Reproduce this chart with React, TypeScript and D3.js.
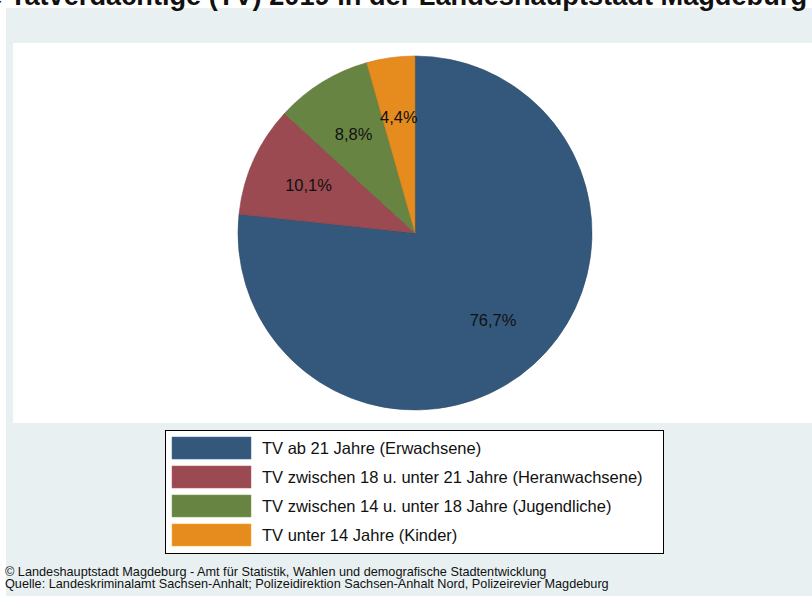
import React from "react";
import * as d3 from "d3";

const categories = [
  "TV ab 21 Jahre (Erwachsene)",
  "TV zwischen 18 u. unter 21 Jahre (Heranwachsene)",
  "TV zwischen 14 u. unter 18 Jahre (Jugendliche)",
  "TV unter 14 Jahre (Kinder)",
];
const shares = [76.7, 10.1, 8.8, 4.4];
const labels = ["76,7%", "10,1%", "8,8%", "4,4%"];
const colors = ["#33587b", "#9a4a50", "#688443", "#e68c1e"];

const titleText = "Ermittelte Tatverdächtige (TV) 2019 in der Landeshauptstadt Magdeburg";
const footer = [
  "©  Landeshauptstadt Magdeburg - Amt für Statistik, Wahlen und demografische Stadtentwicklung",
  "Quelle: Landeskriminalamt Sachsen-Anhalt; Polizeidirektion Sachsen-Anhalt Nord, Polizeirevier Magdeburg",
];

export default function App() {
  const W = 812, H = 596;
  const cx = 415, cy = 233, r = 177;
  const pie = d3.pie<number>().sort(null).value((d) => d);
  const arcs = pie(shares);
  const arc = d3.arc<d3.PieArcDatum<number>>().innerRadius(0).outerRadius(r);
  const labelArc = d3.arc<d3.PieArcDatum<number>>().innerRadius(r * 0.66).outerRadius(r * 0.66);
  const font = "'Liberation Sans', Arial, Helvetica, sans-serif";

  const legendY = d3.scaleBand<number>().domain(d3.range(categories.length)).range([437, 546]).paddingInner(0.24).paddingOuter(0);
  const lb = legendY.bandwidth();

  return (
    <svg width={W} height={H} style={{ position: "absolute", left: 0, top: 0 }} fontFamily={font}>
      <rect x={0} y={0} width={W} height={H} fill="#ffffff" />
      <rect x={6} y={8} width={W - 6} height={H - 8} fill="#e8f0f2" />
      <rect x={13} y={43} width={W - 13} height={380} fill="#ffffff" />
      <text x={807} y={5} textAnchor="end" fontSize={27.2} fontWeight="bold" fill="#111">{titleText}</text>
      <g transform={`translate(${cx},${cy})`}>
        {arcs.map((a, i) => (
          <path key={i} d={arc(a) || ""} fill={colors[i]} stroke={d3.color(colors[i])!.darker(0.4).toString()} strokeWidth={0.6} />
        ))}
        {arcs.map((a, i) => {
          const [x, y] = labelArc.centroid(a);
          return (
            <text key={i} x={x} y={y} textAnchor="middle" dominantBaseline="central" fontSize={16.5} fill="#111">{labels[i]}</text>
          );
        })}
      </g>
      <rect x={165.5} y={430.5} width={498} height={123} fill="#ffffff" stroke="#000" strokeWidth={1} />
      {categories.map((c, i) => (
        <g key={i}>
          <rect x={172} y={legendY(i)!} width={79} height={lb} fill={colors[i]} stroke={d3.color(colors[i])!.brighter(0.6).toString()} strokeWidth={0.5} />
          <text x={262} y={legendY(i)! + lb / 2} dominantBaseline="central" fontSize={16.5} fill="#111">{c}</text>
        </g>
      ))}
      {footer.map((t, i) => (
        <text key={i} x={5} y={576 + i * 11.5} fontSize={12.7} fill="#111">{t}</text>
      ))}
    </svg>
  );
}
